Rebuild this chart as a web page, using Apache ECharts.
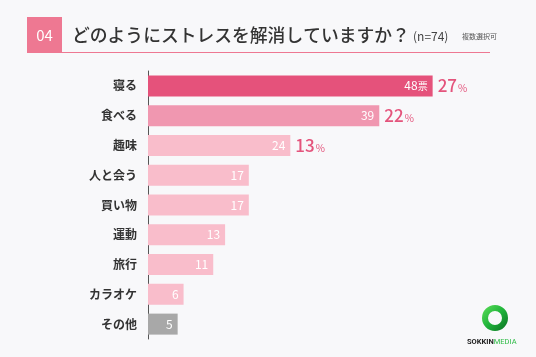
<!DOCTYPE html>
<html><head><meta charset="utf-8">
<script src="https://cdn.jsdelivr.net/npm/echarts@6/dist/echarts.min.js"></script>
<style>html,body{margin:0;padding:0;background:#f8f8fa}#c{width:536px;height:357px}</style>
</head><body><div id="c"></div>
<script>
var categories = ['寝る','食べる','趣味','人と会う','買い物','運動','旅行','カラオケ','その他'];
var votes = [48,39,24,17,17,13,11,6,5];
var percents = [27,22,13,null,null,null,null,null,null];
var barColors = ['#e5527b','#f097b0','#f9bdcb','#f9bdcb','#f9bdcb','#f9bdcb','#f9bdcb','#f9bdcb','#a8a8a8'];
var FONT = '"Noto Sans CJK JP", "Noto Sans", sans-serif';

var chart = echarts.init(document.getElementById('c'), null, {renderer:'canvas'});
chart.setOption({
  backgroundColor: '#f8f8fa',
  textStyle: {fontFamily: FONT},
  grid: {left: 148, top: 71, width: 296.5, height: 268, containLabel: false},
  xAxis: {type: 'value', min: 0, max: 50, show: false},
  yAxis: {
    type: 'category', data: categories, inverse: true,
    axisLine: {show: true, lineStyle: {color: '#555', width: 1}},
    axisTick: {show: false},
    axisLabel: {color: '#333', fontSize: 12, fontWeight: 'bold', margin: 11, fontFamily: FONT}
  },
  series: [{
    type: 'bar', barWidth: 21, silent: true, animation: false,
    data: votes.map(function(v,i){return {value: v, itemStyle: {color: barColors[i]}};}),
    label: {
      show: true, position: 'insideRight', distance: 5, color: '#fff', fontSize: 12, fontFamily: FONT,
      formatter: function(p){ return p.dataIndex === 0 ? p.value + '{s|票}' : '' + p.value; },
      rich: {s: {fontSize: 10, color: '#fff', fontFamily: FONT}}
    }
  },{
    type: 'bar', barWidth: 21, barGap: '-100%', silent: true, animation: false,
    data: votes.map(function(v){return {value: v, itemStyle: {color: 'rgba(0,0,0,0)'}};}),
    label: {
      show: true, position: 'right', distance: 5,
      formatter: function(p){ var pc = percents[p.dataIndex]; return pc == null ? '' : '{b|' + pc + '}{s|%}'; },
      rich: {
        b: {fontSize: 17, color: '#e4547c', fontFamily: FONT, fontWeight: 500},
        s: {fontSize: 10, color: '#e4547c', fontFamily: FONT, padding: [5,0,0,1]}
      }
    }
  }],
  graphic: [
    {type: 'rect', shape: {x: 27, y: 17, width: 35, height: 36}, style: {fill: '#ee7892'}},
    {type: 'text', x: 44.5, y: 35, style: {text: '04', fill: '#fff', fontSize: 15, fontFamily: FONT, align: 'center', verticalAlign: 'middle'}},
    {type: 'line', shape: {x1: 62, y1: 52.5, x2: 490, y2: 52.5}, style: {stroke: '#ee7892', lineWidth: 1.2}},
    {type: 'text', x: 72, y: 35, style: {text: 'どのようにストレスを解消していますか？', fill: '#333', fontSize: 17.8, fontFamily: FONT, verticalAlign: 'middle', fontWeight: 500}},
    {type: 'text', x: 413, y: 36, style: {text: '(n=74)', fill: '#444', fontSize: 12, fontFamily: FONT, verticalAlign: 'middle'}},
    {type: 'text', x: 462, y: 36, style: {text: '複数選択可', fill: '#555', fontSize: 7, fontFamily: FONT, verticalAlign: 'middle'}},
    {type: 'ring', shape: {cx: 495, cy: 318, r: 13, r0: 7},
     style: {fill: new echarts.graphic.LinearGradient(0,0,1,1,[{offset:0,color:'#5fe05a'},{offset:0.5,color:'#1fb33a'},{offset:1,color:'#0a6e22'}])}},
    {type: 'text', x: 467, y: 342, style: {text: '{a|SOKKIN}{b|MEDIA}', verticalAlign: 'middle',
      rich: {a: {fontSize: 7.5, fontWeight: 'bold', fill: '#222', fontFamily: 'Roboto, sans-serif'}, b: {fontSize: 7.5, fill: '#2dbb45', fontFamily: 'Roboto, sans-serif'}}}}
  ]
});
</script></body></html>
